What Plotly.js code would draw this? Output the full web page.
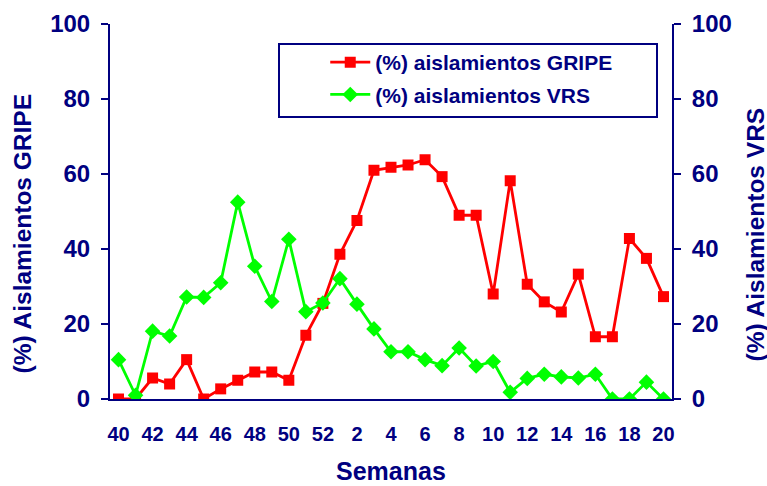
<!DOCTYPE html>
<html>
<head>
<meta charset="utf-8">
<script src="https://cdn.plot.ly/plotly-3.0.1.min.js"></script>
<style>html,body{margin:0;padding:0;background:#fff;} #chart{width:767px;height:486px;}</style>
</head>
<body>
<div id="chart"></div>
<script>
const semanas = ["40","41","42","43","44","45","46","47","48","49","50","51","52",
  "1","2","3","4","5","6","7","8","9","10","11","12","13","14","15","16","17","18","19","20"];
const gripe = [0,0,5.6,4.0,10.5,0,2.7,5.0,7.2,7.2,5.0,17.0,25.5,
  38.6,47.6,61.0,61.8,62.4,63.8,59.3,49.0,49.0,28.0,58.2,30.6,25.9,23.2,33.3,16.6,16.6,42.8,37.5,27.3];
const vrs = [10.5,1.0,18.1,16.8,27.2,27.1,31.0,52.5,35.4,26.0,42.6,23.3,25.6,
  32.1,25.3,18.7,12.6,12.6,10.5,8.9,13.6,8.8,10.0,1.8,5.5,6.6,5.9,5.6,6.6,0,0,4.5,0];
const yTicks = [0,20,40,60,80,100];
const leftTitle = '(%) Aislamientos GRIPE';
const rightTitle = '(%) Aislamientos VRS';
const xTitle = 'Semanas';

const navy = '#000080';
const fam = 'Liberation Sans, Arial, sans-serif';
const idx = semanas.map((s,i)=>i);
const labIdx = idx.filter(i=>i%2===0);
const labText = labIdx.map(i=>semanas[i]);
const xr = [-0.5, semanas.length-0.5];

const traces = [
  {x: idx, y: gripe, name: '(%) aislamientos GRIPE', type:'scatter', mode:'lines+markers',
   line:{color:'#FF0000', width:2.8}, marker:{symbol:'square', size:11, color:'#FF0000'},
   legendgroup:'a', xaxis:'x', yaxis:'y'},
  {x: idx, y: vrs, name: '(%) aislamientos VRS', type:'scatter', mode:'lines+markers',
   line:{color:'#00FF00', width:2.8}, marker:{symbol:'diamond', size:12, color:'#00FF00'},
   legendgroup:'b', xaxis:'x', yaxis:'y'},
  {x:[0], y:[null], yaxis:'y2', showlegend:false, hoverinfo:'skip', type:'scatter'}
];

const yTickFont = {family:fam, size:24, color:navy, weight:'bold'};
const xTickFont = {family:fam, size:20, color:navy, weight:'bold'};
const titleFont = {family:fam, size:24.5, color:navy, weight:'bold'};
const layout = {
  width:767, height:486,
  margin:{l:110, r:95, t:24, b:87},
  paper_bgcolor:'#fff', plot_bgcolor:'#fff',
  showlegend:true,
  legend:{x:0.383, xanchor:'left', y:0.952, yanchor:'top', bgcolor:'rgba(0,0,0,0)',
    borderwidth:0, font:{family:fam, size:21, color:navy, weight:'bold'},
    traceorder:'grouped', tracegroupgap:2, itemwidth:40},
  xaxis:{range:xr, tickmode:'array', tickvals:labIdx, ticktext:labText, ticks:'',
    showline:true, linecolor:navy, linewidth:2, showgrid:false, zeroline:false,
    tickfont:xTickFont, ticklabelstandoff:16},
  xaxis2:{range:xr, overlaying:'x', anchor:'y', side:'bottom', tickmode:'linear', tick0:-0.5, dtick:1,
    ticks:'outside', ticklen:6, tickwidth:2, tickcolor:navy, showticklabels:false,
    showline:false, showgrid:false, zeroline:false},
  xaxis3:{range:xr, overlaying:'x', anchor:'y', side:'bottom', tickmode:'linear', tick0:-0.5, dtick:1,
    ticks:'inside', ticklen:5, tickwidth:2, tickcolor:navy, showticklabels:false,
    showline:false, showgrid:false, zeroline:false},
  yaxis:{range:[0,100], tickmode:'array', tickvals:yTicks, ticks:'outside', ticklen:7, tickwidth:2,
    tickcolor:navy, showline:true, linecolor:navy, linewidth:2, showgrid:false, zeroline:false,
    tickfont:yTickFont, ticklabelstandoff:6},
  yaxis2:{range:[0,100], overlaying:'y', side:'right', anchor:'x', tickmode:'array', tickvals:yTicks,
    ticks:'outside', ticklen:7, tickwidth:2, tickcolor:navy, showline:true, linecolor:navy, linewidth:2,
    showgrid:false, zeroline:false, tickfont:yTickFont, ticklabelstandoff:6},
  annotations:[
    {text:leftTitle, xref:'paper', yref:'paper', x:(22-110)/562, y:(399.5-234)/375,
     xanchor:'center', yanchor:'middle', textangle:-90, showarrow:false, font:titleFont},
    {text:rightTitle, xref:'paper', yref:'paper', x:(755-110)/562, y:(399.5-235)/375,
     xanchor:'center', yanchor:'middle', textangle:-90, showarrow:false, font:titleFont},
    {text:xTitle, xref:'paper', yref:'paper', x:(391-110)/562, y:(399.5-471)/375,
     xanchor:'center', yanchor:'middle', showarrow:false,
     font:{family:fam, size:25, color:navy, weight:'bold'}}
  ],
  shapes:[{type:'rect', xref:'paper', yref:'paper', x0:(279-110)/562, x1:(657-110)/562,
    y0:(399-117)/375, y1:(399-44)/375, line:{color:navy, width:2}, fillcolor:'rgba(0,0,0,0)', layer:'above'}]
};
Plotly.newPlot('chart', traces, layout, {displayModeBar:false, staticPlot:true});
</script>
</body>
</html>
